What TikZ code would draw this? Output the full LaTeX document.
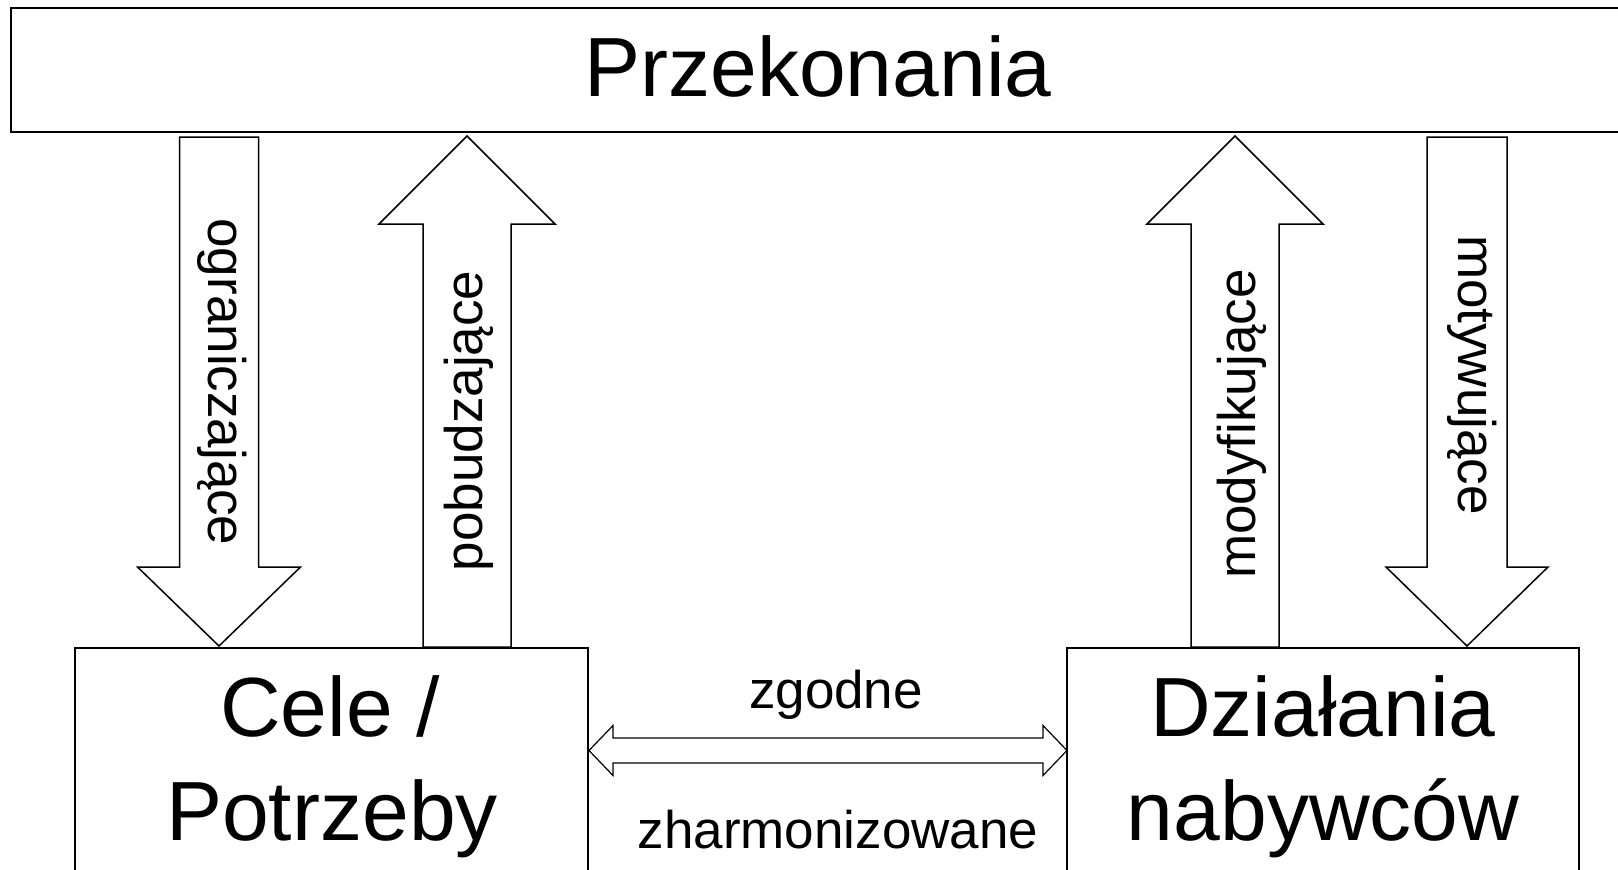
\documentclass[tikz,border=0pt]{standalone}
\usepackage{fontspec}
\setmainfont{Liberation Sans}
\usetikzlibrary{calc}

% block arrow: tail, tip, half shaft, half head, head length
\newcommand{\blockarrow}[5]{%
  \coordinate (neck) at ($(#2)!#5!(#1)$);
  \draw[arrowline] ($(#1)!#3!90:(#2)$) -- ($(neck)!#3!90:(#2)$) -- ($(neck)!#4!90:(#2)$)
    -- (#2) -- ($(neck)!#4!-90:(#2)$) -- ($(neck)!#3!-90:(#2)$) -- ($(#1)!#3!-90:(#2)$) -- cycle;
}
% double block arrow: tip, tip, half shaft, half head, head length
\newcommand{\blockarrowboth}[5]{%
  \coordinate (neckA) at ($(#1)!#5!(#2)$);
  \coordinate (neckB) at ($(#2)!#5!(#1)$);
  \draw[thinarrow] (#1) -- ($(neckA)!#4!90:(#2)$) -- ($(neckA)!#3!90:(#2)$) -- ($(neckB)!#3!90:(#2)$)
    -- ($(neckB)!#4!90:(#2)$) -- (#2) -- ($(neckB)!#4!-90:(#2)$) -- ($(neckB)!#3!-90:(#2)$)
    -- ($(neckA)!#3!-90:(#2)$) -- ($(neckA)!#4!-90:(#2)$) -- cycle;
}

\begin{document}
\begin{tikzpicture}[
        x=1pt, y=-1pt,
        box/.style={draw, line width=2pt, rectangle, inner sep=0pt, anchor=north west},
        arrowline/.style={draw, line width=1.5pt, miter limit=10},
        thinarrow/.style={draw, line width=1.2pt, miter limit=10},
        bigtxt/.style={font=\fontsize{84}{104}\selectfont, inner sep=0pt, anchor=base},
        lbl/.style={font=\fontsize{53}{64}\selectfont, inner sep=0pt}
    ]
    \useasboundingbox (0,0) rectangle (1618,870);
    \clip (0,0) rectangle (1618,870);

    % boxes
    \node[box, minimum width=1615, minimum height=124] (przek) at (10,7) {};
    \node[box, minimum width=513, minimum height=300] (cele) at (74,647) {};
    \node[box, minimum width=512, minimum height=300] (dzial) at (1066,647) {};

    \node[bigtxt] (przektxt) at (818,96) {Przekonania};
    \node[bigtxt] (celetxt) at (330,736) {Cele /};
    \node[bigtxt] (potrztxt) at (332,840) {Potrzeby};
    \node[bigtxt] (dzialtxt) at (1323,736) {Działania};
    \node[bigtxt] (nabytxt) at (1323,840) {nabywców};

    % block arrows
    \coordinate (ogrA) at ($(przek.south west)+(209,4)$);
    \coordinate (ogrB) at ($(cele.north west)+(145,-1)$);
    \coordinate (pobA) at ($(cele.north west)+(393,0)$);
    \coordinate (pobB) at ($(przek.south west)+(457,3)$);
    \coordinate (modA) at ($(dzial.north west)+(169,0)$);
    \coordinate (modB) at ($(przek.south west)+(1225,3)$);
    \coordinate (motA) at ($(przek.south west)+(1457,4)$);
    \coordinate (motB) at ($(dzial.north west)+(401,-1)$);
    \blockarrow{ogrA}{ogrB}{39.5pt}{81.5pt}{79pt}
    \blockarrow{pobA}{pobB}{44pt}{88pt}{88pt}
    \blockarrow{modA}{modB}{44pt}{88pt}{88pt}
    \blockarrow{motA}{motB}{40pt}{81pt}{79pt}

    \node[lbl, rotate=-90] (ogrtxt) at (222,382) {ograniczające};
    \node[lbl, rotate=90] (pobtxt) at (469,421) {pobudzające};
    \node[lbl, rotate=90] (modtxt) at (1242,424) {modyfikujące};
    \node[lbl, rotate=-90] (mottxt) at (1472,375) {motywujące};

    % double arrow
    \coordinate (zgA) at ($(cele.north east)+(0,103.5)$);
    \coordinate (zgB) at ($(dzial.north west)+(1,103.5)$);
    \blockarrowboth{zgA}{zgB}{12.5pt}{25pt}{24pt}

    \node[lbl, anchor=base] (zgtxt) at (836,708) {zgodne};
    \node[lbl, anchor=base] (zhtxt) at (838,848) {zharmonizowane};
\end{tikzpicture}
\end{document}
